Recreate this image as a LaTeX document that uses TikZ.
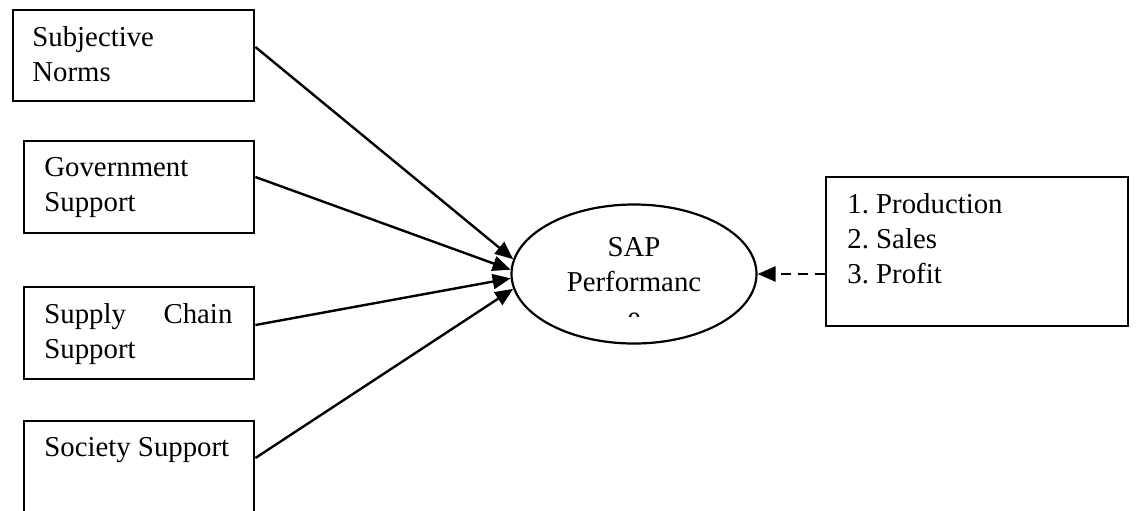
\documentclass[tikz,border=0pt]{standalone}
\usepackage{fontspec}
\setmainfont{Liberation Serif}
\frenchspacing
\usetikzlibrary{arrows.meta,shapes.geometric,positioning}
\tikzset{
  fbox/.style={draw,rectangle,line width=1.2pt,inner sep=0pt,anchor=north west},
  ftxt/.style={font=\fontsize{14.4pt}{17.5pt}\selectfont,inner sep=0pt,anchor=north west,align=left},
  oval/.style={draw,ellipse,line width=1.1pt,minimum width=122.5pt,minimum height=69.5pt,inner sep=0pt},
  link/.style={-{Triangle[length=9pt,width=7.5pt]},line width=1.2pt},
  dlink/.style={link,dash pattern=on 5pt off 3.5pt},
}
\begin{document}
\begin{tikzpicture}[x=0.5pt,y=-0.5pt]
\useasboundingbox (0,0) rectangle (1136,510);
% ================= factor boxes =================
\node[fbox,minimum width=120.5pt,minimum height=45.5pt] (norms) at (12,9) {};
\node[ftxt] (norms-t) at ([xshift=10pt,yshift=-8.5pt]norms.north west) {Subjective\\Norms};
\node[fbox,minimum width=115pt,minimum height=46pt] (gov) at (23,140) {};
\node[ftxt] (gov-t) at ([xshift=10.5pt,yshift=-8.5pt]gov.north west) {Government\\Support};
\node[fbox,minimum width=115pt,minimum height=46pt] (chain) at (23,286) {};
\node[ftxt,text width=94pt,align=justify] (chain-t) at ([xshift=10.5pt,yshift=-8.5pt]chain.north west) {Supply Chain Support};
\node[fbox,minimum width=115pt,minimum height=56pt] (society) at (23,420) {};
\node[ftxt] (society-t) at ([xshift=10.5pt,yshift=-8.5pt]society.north west) {Society Support};

% ================= performance =================
\node[oval] (sap) at (634,274) {};
\begin{scope}
  % text box of the oval cuts the last letter
  \clip (500,200) rectangle (770,316);
  \node[ftxt,anchor=north,align=center] (sap-t) at (634,237) {SAP\\Performanc\\e};
\end{scope}

% ================= measures =================
\node[fbox,minimum width=151pt,minimum height=74.5pt] (measures) at (825,176) {};
\node[ftxt] (measures-t) at ([xshift=11pt,yshift=-8.5pt]measures.north west) {1. Production\\2. Sales\\3. Profit};

% ================= links =================
\draw[link] ([yshift=-19pt]norms.north east) -- (sap.173);
\draw[link] ([yshift=-18.5pt]gov.north east) -- (sap.178);
\draw[link] ([yshift=-19.5pt]chain.north east) -- (sap.182.5);
\draw[link] ([yshift=-19pt]society.north east) -- (sap.187);
\draw[dlink] (measures.west |- sap.east) -- (sap.east);
\end{tikzpicture}
\end{document}
